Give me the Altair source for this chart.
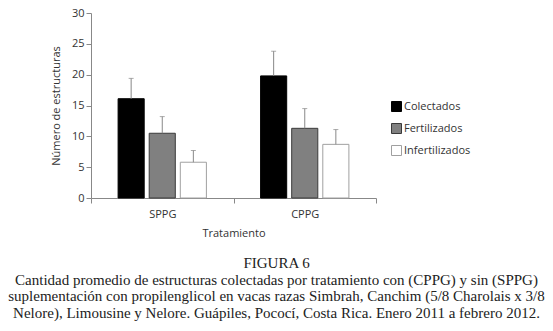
import altair as alt
import pandas as pd

groups = ["SPPG", "CPPG"]
types = ["Colectados", "Fertilizados", "Infertilizados"]
means_sppg = [16.1, 10.5, 5.8]
means_cppg = [19.8, 11.3, 8.7]
err_sppg = [3.3, 2.7, 1.9]
err_cppg = [4.0, 3.2, 2.4]
y_ticks = [0, 5, 10, 15, 20, 25, 30]

rows = []
for g, ms, es in [("SPPG", means_sppg, err_sppg), ("CPPG", means_cppg, err_cppg)]:
    for t, m, e in zip(types, ms, es):
        rows.append({"grupo": g, "tipo": t, "media": m, "sup": round(m + e, 2)})
df = pd.DataFrame(rows)

fills = ["#000000", "#808080", "#ffffff"]
strokes = ["#000000", "#3a3a3a", "#a0a0a0"]

FONT = "Open Sans"

yscale = alt.Scale(domain=[0, 30])
yaxis = alt.Axis(title="Número de estructuras", values=y_ticks, tickCount=7,
                 titlePadding=10, labelOverlap=False)

base = alt.Chart(df).encode(
    x=alt.X("grupo:N", sort=groups,
            scale=alt.Scale(paddingInner=0, paddingOuter=0),
            axis=alt.Axis(title="Tratamiento", labelAngle=0, tickBand="extent",
                          titlePadding=8, labelPadding=5)),
    xOffset=alt.XOffset("tipo:N", sort=types,
                        scale=alt.Scale(paddingInner=0.161, paddingOuter=0.871)),
)

bars = base.mark_bar(strokeWidth=1).encode(
    y=alt.Y("media:Q", scale=yscale, axis=yaxis),
    fill=alt.Fill("tipo:N", sort=types, scale=alt.Scale(domain=types, range=fills), title=None),
    stroke=alt.Stroke("tipo:N", sort=types, scale=alt.Scale(domain=types, range=strokes), title=None),
)

rule = base.mark_rule(color="#888888", strokeWidth=1).encode(
    y=alt.Y("media:Q", scale=yscale, axis=yaxis), y2="sup:Q"
)
cap = base.mark_tick(color="#888888", size=5, thickness=1, orient="horizontal").encode(
    y=alt.Y("sup:Q", scale=yscale, axis=yaxis)
)

caption = [
    "FIGURA 6",
    "Cantidad promedio de estructuras colectadas por tratamiento con (CPPG) y sin (SPPG)",
    "suplementación con propilenglicol en vacas razas Simbrah, Canchim (5/8 Charolais x 3/8",
    "Nelore), Limousine y Nelore. Guápiles, Pococí, Costa Rica. Enero 2011 a febrero 2012.",
]

chart = alt.layer(bars, rule, cap).properties(
    width=285, height=185,
    autosize=alt.AutoSizeParams(type="none"),
    padding={"left": 91, "top": 13, "right": 177, "bottom": 133},
    title=alt.TitleParams(text=caption, orient="bottom", anchor="middle", frame="group",
                          font="Liberation Serif", fontSize=15, fontWeight="normal",
                          color="#222222", lineHeight=16.5, offset=18, dx=43),
).configure_view(stroke=None).configure_axis(
    labelFont=FONT, titleFont=FONT, labelFontSize=11, titleFontSize=11,
    titleFontWeight="normal", labelColor="#333333", titleColor="#333333",
    domainColor="#888888", tickColor="#888888", tickSize=5, grid=False,
).configure_legend(
    orient="none", legendX=300, legendY=88, symbolType="square", symbolSize=100,
    symbolStrokeWidth=1, labelFont=FONT, labelFontSize=11, labelColor="#333333",
    rowPadding=7, labelOffset=2,
)

chart.save("out.html", embed_options={"renderer": "svg", "actions": False})
